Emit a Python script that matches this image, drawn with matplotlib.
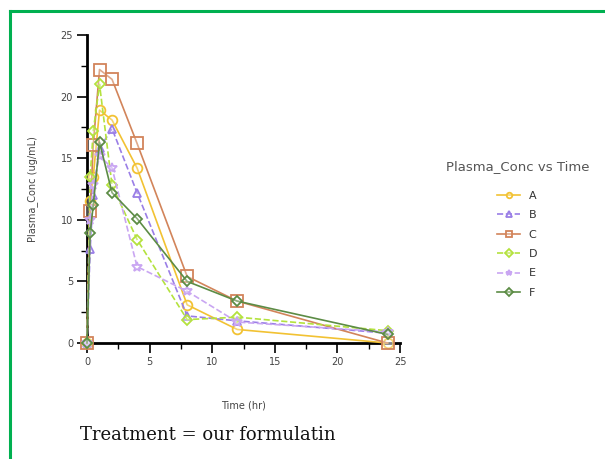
import numpy as np
import matplotlib
matplotlib.use('Agg')
import matplotlib.pyplot as plt
from matplotlib.lines import Line2D

# sampling times (hr) and plasma concentrations (ug/mL) per subject
time_hr = [0, 0.25, 0.5, 1, 2, 4, 8, 12, 24]
conc_a = [0, 11.5, 13.5, 18.9, 18.1, 14.2, 3.1, 1.1, 0.0]
conc_b = [0, 7.6, 12.0, 15.8, 17.4, 12.2, 2.2, 1.8, 0.8]
conc_c = [0, 10.7, 16.1, 22.2, 21.4, 16.2, 5.4, 3.4, 0.0]
conc_d = [0, 13.5, 17.2, 21.0, 12.8, 8.4, 1.9, 2.1, 1.0]
conc_e = [0, 10.0, 12.8, 15.2, 14.2, 6.2, 4.2, 1.7, 0.9]
conc_f = [0, 8.9, 11.2, 16.3, 12.2, 10.1, 5.0, 3.4, 0.7]

labels = ['A', 'B', 'C', 'D', 'E', 'F']
series = [conc_a, conc_b, conc_c, conc_d, conc_e, conc_f]
colors = ['#f2c233', '#9a7ee6', '#d2845a', '#b4e23e', '#c9a6f2', '#5c8c45']
markers = ['o', '^', 's', 'D', '*', 'D']
styles = ['-', '--', '-', '--', '--', '-']
msizes = [7, 6, 8, 5, 7, 5]

fig = plt.figure(figsize=(6.05, 4.59), dpi=100)
ax = fig.add_axes([0.1438, 0.2527, 0.5174, 0.671])

for lab, y, c, m, ls, ms in zip(labels, series, colors, markers, styles, msizes):
    ax.plot(time_hr, y, linestyle=ls, color=c, linewidth=1.2, marker=m,
            markersize=ms, markerfacecolor=(1, 1, 1, 0.3), markeredgecolor=c,
            markeredgewidth=1.3, label=lab, clip_on=False, zorder=3)

ax.set_xlim(0, 25)
ax.set_ylim(0, 25)
ax.set_xticks([0, 5, 10, 15, 20, 25])
ax.set_yticks([0, 5, 10, 15, 20, 25])
ax.set_xticks(np.arange(2.5, 25, 5), minor=True)
ax.set_yticks(np.arange(2.5, 25, 5), minor=True)
for side in ['top', 'right']:
    ax.spines[side].set_visible(False)
for side in ['left', 'bottom']:
    ax.spines[side].set_linewidth(2)
ax.tick_params(which='major', direction='out', length=7, width=1.2,
               labelsize=7, labelcolor='#444444', pad=3)
ax.tick_params(which='minor', direction='out', length=4, width=1)
ax.set_xlabel('Time (hr)', fontsize=7, color='#444444', labelpad=24)
ax.set_ylabel('Plasma_Conc (ug/mL)', fontsize=7, color='#444444', labelpad=16)

leg = fig.legend(*ax.get_legend_handles_labels(), loc='upper center',
                 bbox_to_anchor=(0.855, 0.674), frameon=False,
                 fontsize=8, handlelength=2.0, labelspacing=0.85,
                 title='Plasma_Conc vs Time', title_fontsize=9.5)
leg.get_title().set_color('#555555')
leg._legend_box.align = 'center'
leg._legend_box.sep = 13
for h in leg.legend_handles:
    h.set_markersize(4)
for t in leg.get_texts():
    t.set_color('#333333')

fig.text(0.132, 0.042, 'Treatment = our formulatin', fontsize=13,
         family='DejaVu Serif', color='#111111')

# green frame along the top and left edges
fig.add_artist(Line2D([0.0165, 1.0], [0.976, 0.976], color='#00b050', linewidth=2.2))
fig.add_artist(Line2D([0.0165, 0.0165], [0.0, 0.976], color='#00b050', linewidth=2.2))

fig.savefig('out.png', dpi=100)
